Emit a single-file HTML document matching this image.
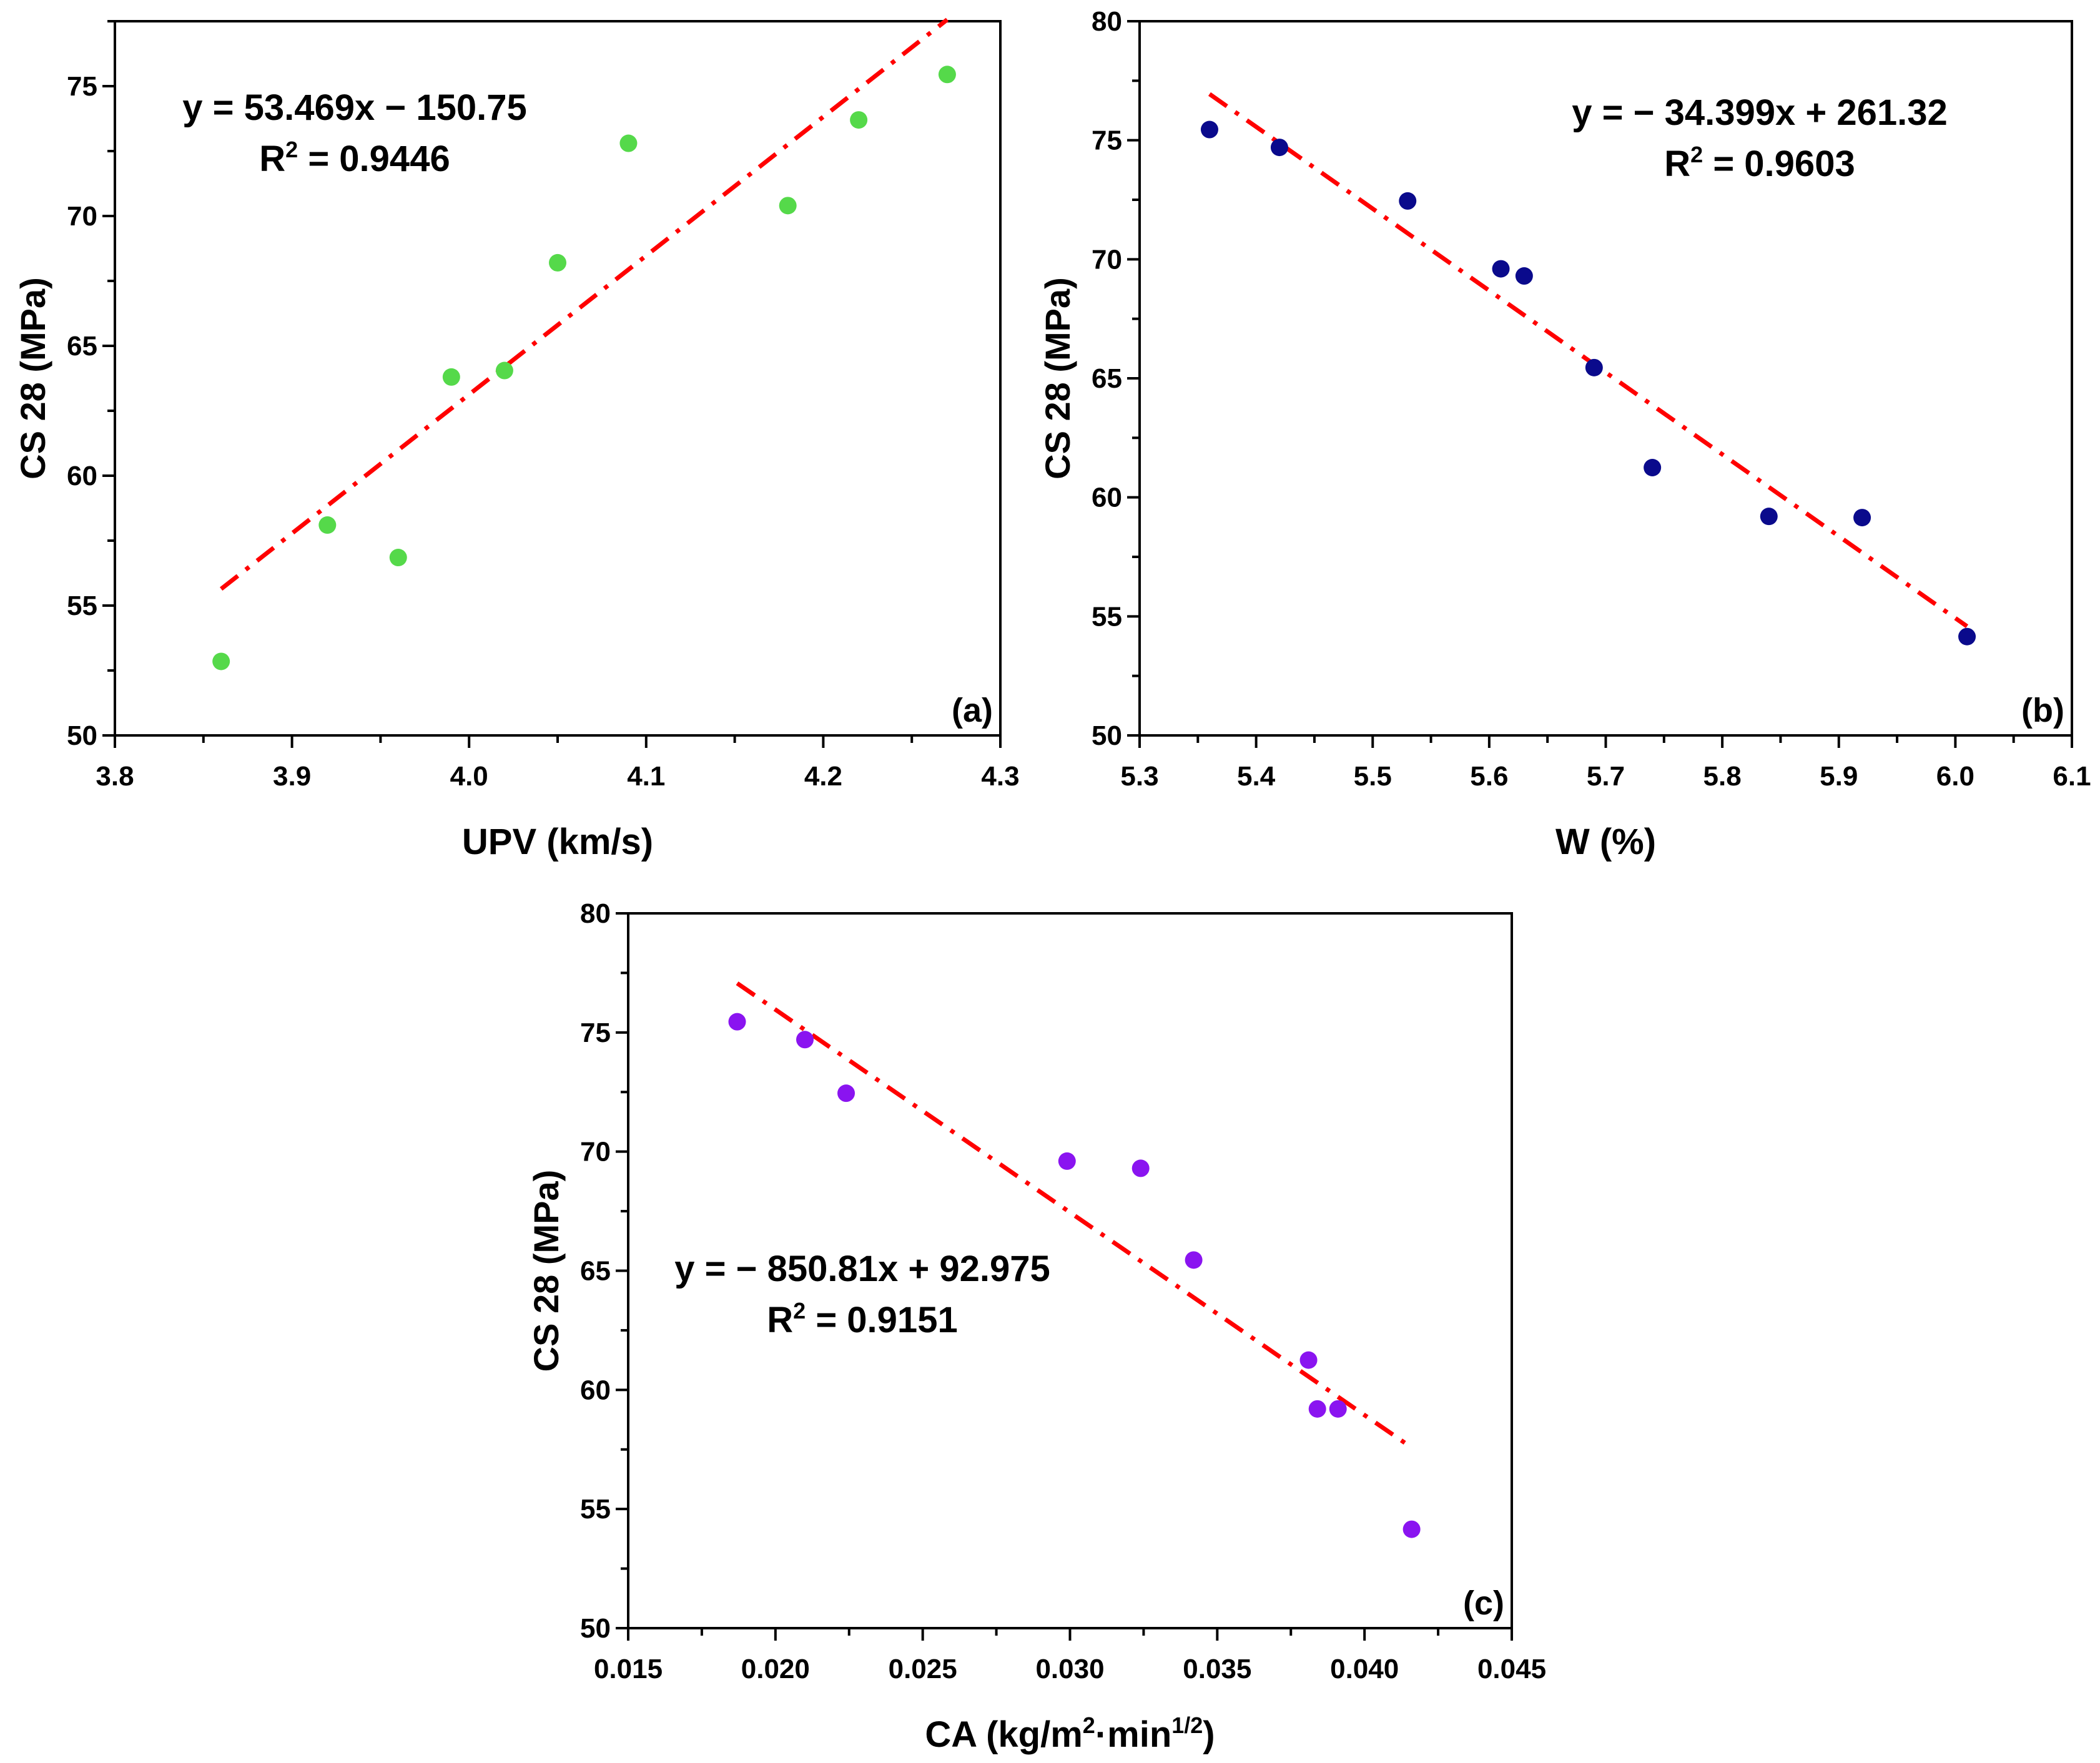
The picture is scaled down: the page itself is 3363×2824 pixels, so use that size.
<!DOCTYPE html>
<html><head><meta charset="utf-8">
<style>
html,body{margin:0;padding:0;background:#fff;}
svg{display:block;}
text{font-family:"Liberation Sans",Arial,sans-serif;font-weight:bold;fill:#000;}
</style></head>
<body>
<svg id="fig" width="3363" height="2824" viewBox="0 0 3363 2824" xmlns="http://www.w3.org/2000/svg"></svg>
<script>
// Panel (a) data
const aX = [3.86,3.92,3.96,3.99,4.02,4.05,4.09,4.18,4.22,4.27];
const aY = [52.85,58.1,56.85,63.8,64.05,68.2,72.8,70.4,73.7,75.45];
const aSlope = 53.469, aIntercept = -150.75;
const aXTicks = ["3.8","3.9","4.0","4.1","4.2","4.3"];
const aYTicks = ["50","55","60","65","70","75"];
// Panel (b) data
const bX = [5.36,5.42,5.53,5.61,5.63,5.69,5.74,5.84,5.92,6.01];
const bY = [75.45,74.7,72.45,69.6,69.3,65.45,61.25,59.2,59.15,54.15];
const bSlope = -34.399, bIntercept = 261.32;
const bXTicks = ["5.3","5.4","5.5","5.6","5.7","5.8","5.9","6.0","6.1"];
const bYTicks = ["50","55","60","65","70","75","80"];
// Panel (c) data
const cX = [0.0187,0.0210,0.0224,0.0299,0.0324,0.0342,0.0381,0.0384,0.0391,0.0416];
const cY = [75.45,74.7,72.45,69.6,69.3,65.45,61.25,59.2,59.2,54.15];
const cSlope = -850.81, cIntercept = 92.975;
const cXTicks = ["0.015","0.020","0.025","0.030","0.035","0.040","0.045"];
const cYTicks = ["50","55","60","65","70","75","80"];

const NS = "http://www.w3.org/2000/svg";
const svg = document.getElementById('fig');
function mk(tag, attrs, parent){
  const e = document.createElementNS(NS, tag);
  for (const k in attrs) e.setAttribute(k, attrs[k]);
  (parent||svg).appendChild(e);
  return e;
}

function panel(o){
  const g = mk('g', {});
  
  
  const xs = v => o.L + (v - o.x0) / (o.x1 - o.x0) * (o.R - o.L);
  const ys = v => o.B - (v - o.y0) / (o.y1 - o.y0) * (o.B - o.T);
  const fr = mk('rect', {x:o.L, y:o.T, width:o.R-o.L, height:o.B-o.T, fill:'none', stroke:'#000', 'stroke-width':4}, g);
  
  
  o.xt.forEach((lab, i) => {
    const v = parseFloat(lab);
    const px = xs(v);
    mk('line', {x1:px, x2:px, y1:o.B, y2:o.B+20, stroke:'#000', 'stroke-width':4}, g);
    const t = mk('text', {x:px, y:o.B+80, 'font-size':44, 'text-anchor':'middle'}, g);
    t.textContent = lab;
    
    
    if (i < o.xt.length - 1) {
      const mv = (v + parseFloat(o.xt[i+1])) / 2;
      const mx = xs(mv);
      mk('line', {x1:mx, x2:mx, y1:o.B, y2:o.B+12, stroke:'#000', 'stroke-width':4}, g);
    }
  });
  o.yt.forEach((lab, i) => {
    const v = parseFloat(lab);
    const py = ys(v);
    mk('line', {x1:o.L-20, x2:o.L, y1:py, y2:py, stroke:'#000', 'stroke-width':4}, g);
    const t = mk('text', {x:o.L-28, y:py+15, 'font-size':44, 'text-anchor':'end'}, g);
    t.textContent = lab;
    
    
    const mv = v + 2.5;
    if (mv <= o.y1) {
      const my = ys(mv);
      mk('line', {x1:o.L-12, x2:o.L, y1:my, y2:my, stroke:'#000', 'stroke-width':4}, g);
    }
  });
  const lx0 = Math.min(...o.X), lx1 = Math.max(...o.X);
  const fl = mk('line', {x1:xs(lx0), y1:ys(o.m*lx0+o.b), x2:xs(lx1), y2:ys(o.m*lx1+o.b),
    stroke:'#ff0000', 'stroke-width':7, 'stroke-dasharray':'34 16 7 16'}, g);
  
  
  o.X.forEach((xv, i) => {
    const c = mk('circle', {cx:xs(xv), cy:ys(o.Y[i]), r:14, fill:o.color}, g);
    
    
  });
  const pl = mk('text', {x:o.R-12, y:o.B-22, 'font-size':54, 'text-anchor':'end'}, g);
  pl.textContent = '(' + o.id + ')';
  
  
  const e1 = mk('text', {x:o.ex, y:o.ey, 'font-size':58, 'text-anchor':'middle'}, g);
  e1.textContent = o.eq;
  
  
  const e2 = mk('text', {x:o.ex, y:o.ey+82, 'font-size':58, 'text-anchor':'middle'}, g);
  e2.innerHTML = 'R<tspan dy="-22" font-size="36">2</tspan><tspan dy="22"> = ' + o.r2 + '</tspan>';
  
  
  const xt = mk('text', {x:(o.L+o.R)/2, y:o.B+190, 'font-size':58, 'text-anchor':'middle'}, g);
  xt.innerHTML = o.xTitle;
  
  
  const ty = (o.T+o.B)/2;
  const yt = mk('text', {x:0, y:0, 'font-size':56, 'text-anchor':'middle', transform:'translate(' + (o.L-112) + ',' + ty + ') rotate(-90)'}, g);
  yt.textContent = 'CS 28 (MPa)';
  
  
}

panel({id:'a', L:184, R:1602, T:34, B:1178, x0:3.8, x1:4.3, y0:50, y1:77.5,
  xt:aXTicks, yt:aYTicks, X:aX, Y:aY, m:aSlope, b:aIntercept, color:'#55d94a',
  eq:'y = 53.469x \u2212 150.75', r2:'0.9446', ex:568, ey:192, xTitle:'UPV (km/s)'});
panel({id:'b', L:1825, R:3318, T:34, B:1178, x0:5.3, x1:6.1, y0:50, y1:80,
  xt:bXTicks, yt:bYTicks, X:bX, Y:bY, m:bSlope, b:bIntercept, color:'#0a0a8c',
  eq:'y = \u2212 34.399x + 261.32', r2:'0.9603', ex:2818, ey:200, xTitle:'W (%)'});
panel({id:'c', L:1006, R:2421, T:1463, B:2608, x0:0.015, x1:0.045, y0:50, y1:80,
  xt:cXTicks, yt:cYTicks, X:cX, Y:cY, m:cSlope, b:cIntercept, color:'#8a14f0',
  eq:'y = \u2212 850.81x + 92.975', r2:'0.9151', ex:1381, ey:2052,
  xTitle:'CA (kg/m<tspan dy="-22" font-size="36">2</tspan><tspan dy="22">\u00b7min</tspan><tspan dy="-22" font-size="36">1/2</tspan><tspan dy="22">)</tspan>'});
</script>
</body></html>
